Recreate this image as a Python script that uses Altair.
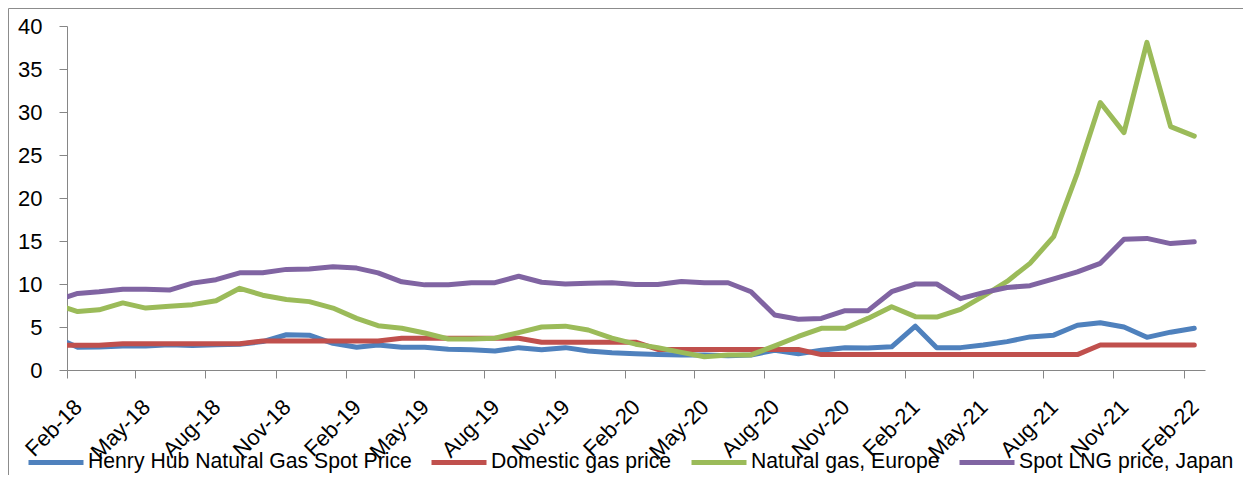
import altair as alt
import pandas as pd

# ---- data (monthly, Jan-18 .. Feb-22; Jan-18 sits just left of the axis and is clipped)
months = [f"{y}-{m:02d}-15T00:00:00" for y in range(2018, 2023) for m in range(1, 13)
          if (y, m) >= (2018, 1) and (y, m) <= (2022, 2)]

series = ["Henry Hub Natural Gas Spot Price", "Domestic gas price",
          "Natural gas, Europe", "Spot LNG price, Japan"]
colors = ["#4F81BD", "#C0504D", "#9BBB59", "#8064A2"]

henry = [3.87, 2.65, 2.68, 2.8, 2.8, 2.95, 2.85, 2.95, 3.0, 3.3, 4.1, 4.05,
         3.1, 2.65, 2.9, 2.65, 2.65, 2.4, 2.35, 2.2, 2.6, 2.35, 2.6, 2.2,
         2.0, 1.9, 1.8, 1.75, 1.75, 1.65, 1.75, 2.3, 1.9, 2.3, 2.6, 2.55,
         2.7, 5.1, 2.6, 2.6, 2.9, 3.3, 3.85, 4.05, 5.2, 5.5, 5.0, 3.8,
         4.4, 4.85]
domestic = [2.89, 2.89, 2.89, 3.06, 3.06, 3.06, 3.06, 3.06, 3.06, 3.36, 3.36, 3.36,
            3.36, 3.36, 3.36, 3.69, 3.69, 3.69, 3.69, 3.69, 3.69, 3.23, 3.23, 3.23,
            3.23, 3.23, 2.39, 2.39, 2.39, 2.39, 2.39, 2.39, 2.39, 1.79, 1.79, 1.79,
            1.79, 1.79, 1.79, 1.79, 1.79, 1.79, 1.79, 1.79, 1.79, 2.9, 2.9, 2.9,
            2.9, 2.9]
europe = [7.7, 6.8, 7.0, 7.8, 7.2, 7.4, 7.6, 8.05, 9.5, 8.7, 8.2, 7.95,
          7.2, 6.0, 5.15, 4.85, 4.3, 3.6, 3.6, 3.7, 4.35, 5.0, 5.1, 4.65,
          3.7, 3.0, 2.6, 2.05, 1.55, 1.75, 1.75, 2.8, 3.9, 4.85, 4.85, 6.0,
          7.35, 6.2, 6.15, 7.05, 8.6, 10.3, 12.4, 15.5, 22.9, 31.1, 27.6, 38.1,
          28.3, 27.2]
japan = [8.0, 8.9, 9.1, 9.4, 9.4, 9.3, 10.1, 10.5, 11.3, 11.3, 11.7, 11.75,
         12.0, 11.85, 11.3, 10.25, 9.9, 9.9, 10.15, 10.15, 10.9, 10.2, 10.0, 10.1,
         10.15, 9.95, 9.95, 10.3, 10.15, 10.15, 9.1, 6.4, 5.9, 6.0, 6.9, 6.9,
         9.1, 10.0, 10.0, 8.3, 9.0, 9.6, 9.8, 10.6, 11.4, 12.4, 15.2, 15.3,
         14.7, 14.9]

tick_months = [(y, m) for y in range(2018, 2023) for m in (2, 5, 8, 11)
               if (y, m) <= (2022, 2)]
y_ticks = [0, 5, 10, 15, 20, 25, 30, 35, 40]

rows = []
for name, vals in zip(series, [henry, domestic, europe, japan]):
    for mo, v in zip(months, vals):
        rows.append({"month": mo, "series": name, "value": v})
df = pd.DataFrame(rows)

FONT = "Liberation Sans"
GRAY = "#868686"

lines = alt.Chart(df).mark_line(
    strokeWidth=5, clip=True, strokeCap="round", strokeJoin="round"
).encode(
    x=alt.X(
        "month:T",
        title=None,
        scale=alt.Scale(
            domain=[alt.DateTime(year=2018, month=2, date=1),
                    alt.DateTime(year=2022, month=3, date=1)],
            nice=False,
        ),
        axis=alt.Axis(
            values=[alt.DateTime(year=y, month=m, date=1) for y, m in tick_months],
            format="%b-%y",
            labelAngle=-45,
            labelAlign="right",
            labelBaseline="top",
            labelPadding=18,
            labelOffset=4,
            labelOverlap=False,
            labelBound=False,
            labelFlush=False,
            grid=False,
            tickSize=8,
        ),
    ),
    y=alt.Y(
        "value:Q",
        title=None,
        scale=alt.Scale(domain=[0, 40], nice=False),
        axis=alt.Axis(values=y_ticks, grid=False, tickSize=8, labelPadding=17),
    ),
    color=alt.Color(
        "series:N",
        scale=alt.Scale(domain=series, range=colors),
        legend=alt.Legend(
            orient="none",
            legendX=-41,
            legendY=406,
            direction="horizontal",
            title=None,
            symbolType="stroke",
            symbolSize=3025,
            symbolStrokeWidth=5,
            labelFont=FONT,
            labelFontSize=21.2,
            labelColor="#000000",
            labelOffset=2,
            labelLimit=600,
            columnPadding=9,
        ),
    ),
)

frame_df = pd.DataFrame({"f": [0]})
frame_top = alt.Chart(frame_df).mark_rule(color="#8C8C8C", strokeWidth=1).encode(
    x=alt.value(-58.5), x2=alt.value(1210), y=alt.value(-17.5)
)
frame_left = alt.Chart(frame_df).mark_rule(color="#8C8C8C", strokeWidth=1).encode(
    x=alt.value(-58.5), y=alt.value(-17.5), y2=alt.value(470)
)

chart = alt.layer(frame_top, frame_left, lines).properties(
    width=1138,
    height=344,
    padding={"left": 59, "top": 18, "right": 38, "bottom": 105},
    autosize=alt.AutoSizeParams(type="none"),
).configure_view(
    strokeWidth=0
).configure_axis(
    domainColor=GRAY,
    tickColor=GRAY,
    domainWidth=1,
    tickWidth=1,
    labelFont=FONT,
    labelFontSize=22,
    labelColor="#000000",
)

chart.save("out.html", embed_options={"renderer": "svg", "actions": False})
